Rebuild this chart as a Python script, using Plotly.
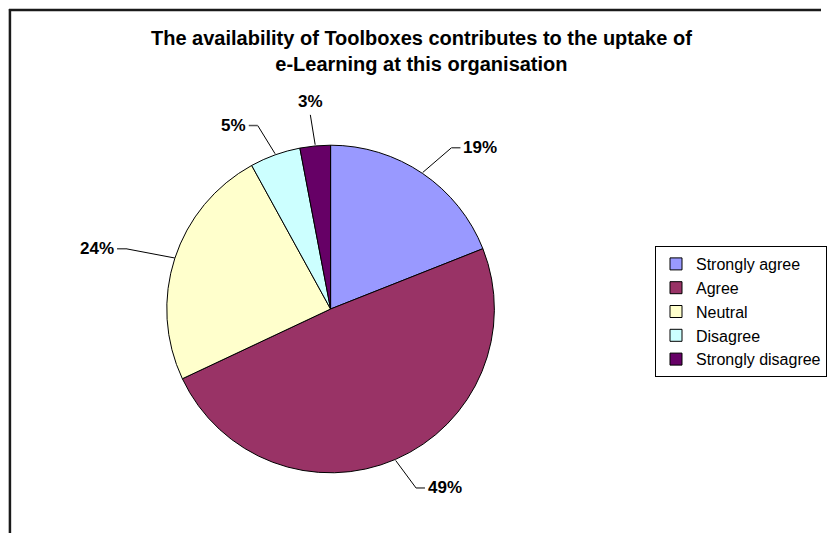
import math
import plotly.graph_objects as go

categories = ["Strongly agree", "Agree", "Neutral", "Disagree", "Strongly disagree"]
values = [19, 49, 24, 5, 3]
colors = ["#9999FF", "#993366", "#FFFFCC", "#CCFFFF", "#660066"]
title_text = "The availability of Toolboxes contributes to the uptake of<br>e-Learning at this organisation"

W, H = 827, 533
CX, CY, R = 333, 309, 165
FONT = "Arial, Liberation Sans, sans-serif"


def px(x):
    return x / W


def py(y):
    return 1 - y / H


fig = go.Figure(
    go.Pie(
        labels=categories,
        values=values,
        sort=False,
        direction="clockwise",
        rotation=0,
        marker=dict(colors=colors, line=dict(color="black", width=1)),
        textinfo="none",
        hoverinfo="skip",
        domain=dict(x=[px(CX - R), px(CX + R)], y=[py(CY + R), py(CY - R)]),
    )
)

shapes = []
annotations = []
total = sum(values)
cum = 0
for v in values:
    mid = (cum + v / 2) / total * 2 * math.pi
    cum += v
    s, c = math.sin(mid), math.cos(mid)
    x0, y0 = CX + R * s, CY - R * c
    x1, y1 = CX + (R + 32) * s * 1.1, CY - (R + 30) * c
    shapes.append(dict(type="line", xref="paper", yref="paper",
                       x0=px(x0), y0=py(y0), x1=px(x1), y1=py(y1),
                       line=dict(color="black", width=1)))
    label = f"<b>{round(v / total * 100)}%</b>"
    if abs(s) < 0.15:
        annotations.append(dict(x=px(x1), y=py(y1 - 2), xref="paper", yref="paper",
                                text=label, showarrow=False, xanchor="center", yanchor="bottom",
                                font=dict(family=FONT, size=17, color="black")))
    else:
        sign = 1 if s > 0 else -1
        x2 = x1 + sign * 9
        shapes.append(dict(type="line", xref="paper", yref="paper",
                           x0=px(x1), y0=py(y1), x1=px(x2), y1=py(y1),
                           line=dict(color="#555555", width=1.5)))
        annotations.append(dict(x=px(x2 + sign * 1), y=py(y1), xref="paper", yref="paper",
                                text=label, showarrow=False,
                                xanchor="left" if sign > 0 else "right", yanchor="middle",
                                font=dict(family=FONT, size=17, color="black")))

# frame of the chart area
shapes.append(dict(type="line", xref="paper", yref="paper", x0=px(9), y0=py(10), x1=1, y1=py(10),
                   line=dict(color="#1a1a1a", width=2.5)))
shapes.append(dict(type="line", xref="paper", yref="paper", x0=px(10), y0=py(9), x1=px(10), y1=0,
                   line=dict(color="#1a1a1a", width=2.5)))

annotations.append(dict(x=px(425), y=py(25), xref="paper", yref="paper", text="<b>" + title_text + "</b>",
                        showarrow=False, xanchor="center", yanchor="top",
                        font=dict(family=FONT, size=20, color="black")))

fig.update_layout(
    width=W, height=H,
    margin=dict(l=0, r=0, t=0, b=0),
    paper_bgcolor="white",
    plot_bgcolor="white",
    showlegend=True,
    legend=dict(x=px(660), y=py(246), xanchor="left", yanchor="top",
                bordercolor="black", borderwidth=1, bgcolor="white",
                font=dict(family=FONT, size=16, color="black"),
                traceorder="normal"),
    shapes=shapes,
    annotations=annotations,
)

fig.write_html("out.html", config={"displayModeBar": False},
               post_script="document.body.style.margin='0';")
